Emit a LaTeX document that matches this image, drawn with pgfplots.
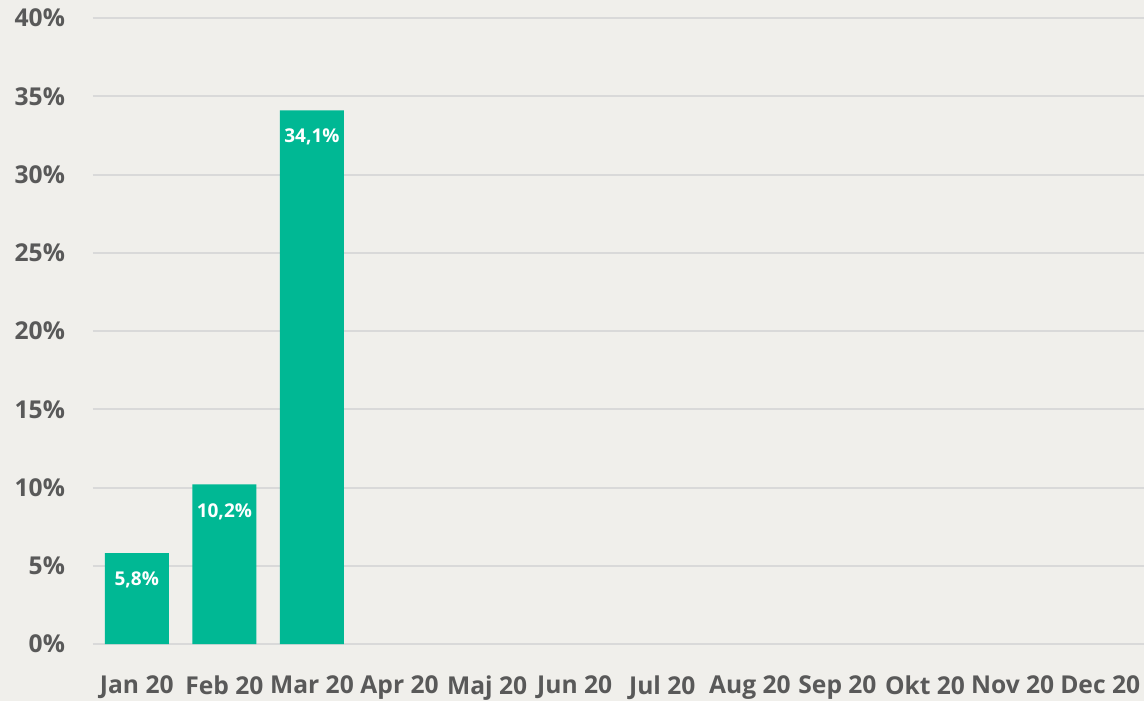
\documentclass[border=0pt]{standalone}
\usepackage{fontspec}
\setmainfont{Open Sans}
\usepackage{pgfplots}
\pgfplotsset{compat=1.18}
\definecolor{bgc}{RGB}{240,239,235}
\definecolor{barc}{RGB}{0,184,148}
\definecolor{gridc}{RGB}{217,217,217}
\definecolor{txtc}{RGB}{89,89,89}
\begin{document}
\begin{tikzpicture}
\path[use as bounding box, fill=bgc] (-46.5pt,-28.5pt) rectangle (525.5pt,322pt);
\begin{axis}[
  at={(0,0)}, anchor=south west,
  scale only axis, width=525.5pt, height=313pt,
  xmin=-0.5, xmax=11.5, ymin=0, ymax=40,
  ybar, bar width=32pt,
  xtick={0,...,11},
  xticklabels={Jan 20,Feb 20,Mar 20,Apr 20,Maj 20,Jun 20,Jul 20,Aug 20,Sep 20,Okt 20,Nov 20,Dec 20},
  ytick={0,5,...,40},
  yticklabel={\pgfmathprintnumber{\tick}\%},
  /pgf/number format/assume math mode=true,
  axis line style={draw=none},
  major tick length=0pt,
  ymajorgrids, grid style={gridc, line width=1pt},
  tick label style={font=\fontsize{12.3}{15}\selectfont\bfseries, text=txtc},
  yticklabel style={xshift=-10.5pt},
  xticklabel style={yshift=-12.5pt},
  nodes near coords={\pgfmathprintnumber[fixed,precision=1,fixed zerofill,use comma]{\pgfplotspointmeta}\%},
  every node near coord/.append style={anchor=center, yshift=-13.5pt, text=white, font=\fontsize{9.5}{12}\selectfont\bfseries},
]
\addplot[fill=barc, draw=none, bar shift=0pt] coordinates {(0,5.8) (1,10.2) (2,34.1)};
\end{axis}
\end{tikzpicture}
\end{document}
